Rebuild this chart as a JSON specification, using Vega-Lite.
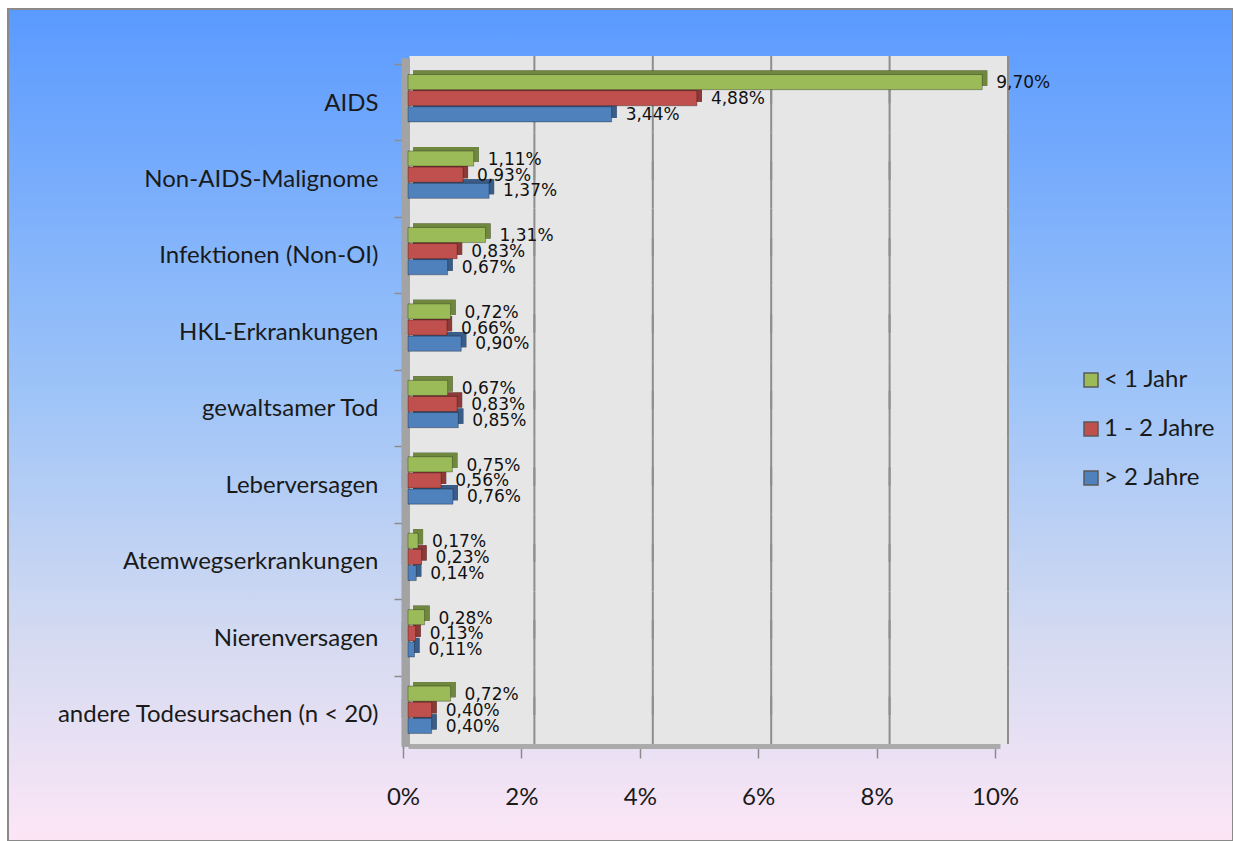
{
  "$schema": "https://vega.github.io/schema/vega-lite/v6.json",
  "width": 1225,
  "height": 832,
  "autosize": {"type": "none"},
  "padding": {"left": 8, "top": 9, "right": 0, "bottom": 0},
  "background": "#ffffff",
  "datasets": {
    "deaths": [
      {"cat": "AIDS", "series": "< 1 Jahr", "value": 0.0970},
      {"cat": "AIDS", "series": "1 - 2 Jahre", "value": 0.0488},
      {"cat": "AIDS", "series": "> 2 Jahre", "value": 0.0344},
      {"cat": "Non-AIDS-Malignome", "series": "< 1 Jahr", "value": 0.0111},
      {"cat": "Non-AIDS-Malignome", "series": "1 - 2 Jahre", "value": 0.0093},
      {"cat": "Non-AIDS-Malignome", "series": "> 2 Jahre", "value": 0.0137},
      {"cat": "Infektionen (Non-OI)", "series": "< 1 Jahr", "value": 0.0131},
      {"cat": "Infektionen (Non-OI)", "series": "1 - 2 Jahre", "value": 0.0083},
      {"cat": "Infektionen (Non-OI)", "series": "> 2 Jahre", "value": 0.0067},
      {"cat": "HKL-Erkrankungen", "series": "< 1 Jahr", "value": 0.0072},
      {"cat": "HKL-Erkrankungen", "series": "1 - 2 Jahre", "value": 0.0066},
      {"cat": "HKL-Erkrankungen", "series": "> 2 Jahre", "value": 0.0090},
      {"cat": "gewaltsamer Tod", "series": "< 1 Jahr", "value": 0.0067},
      {"cat": "gewaltsamer Tod", "series": "1 - 2 Jahre", "value": 0.0083},
      {"cat": "gewaltsamer Tod", "series": "> 2 Jahre", "value": 0.0085},
      {"cat": "Leberversagen", "series": "< 1 Jahr", "value": 0.0075},
      {"cat": "Leberversagen", "series": "1 - 2 Jahre", "value": 0.0056},
      {"cat": "Leberversagen", "series": "> 2 Jahre", "value": 0.0076},
      {"cat": "Atemwegserkrankungen", "series": "< 1 Jahr", "value": 0.0017},
      {"cat": "Atemwegserkrankungen", "series": "1 - 2 Jahre", "value": 0.0023},
      {"cat": "Atemwegserkrankungen", "series": "> 2 Jahre", "value": 0.0014},
      {"cat": "Nierenversagen", "series": "< 1 Jahr", "value": 0.0028},
      {"cat": "Nierenversagen", "series": "1 - 2 Jahre", "value": 0.0013},
      {"cat": "Nierenversagen", "series": "> 2 Jahre", "value": 0.0011},
      {"cat": "andere Todesursachen (n < 20)", "series": "< 1 Jahr", "value": 0.0072},
      {"cat": "andere Todesursachen (n < 20)", "series": "1 - 2 Jahre", "value": 0.0040},
      {"cat": "andere Todesursachen (n < 20)", "series": "> 2 Jahre", "value": 0.0040}
    ],
    "gridlines": [
      {
        "g": [0.02, 0.04, 0.06, 0.08, 0.1],
        "cat": ["AIDS", "Non-AIDS-Malignome", "Infektionen (Non-OI)", "HKL-Erkrankungen", "gewaltsamer Tod", "Leberversagen", "Atemwegserkrankungen", "Nierenversagen", "andere Todesursachen (n < 20)"]
      }
    ]
  },
  "resolve": {"scale": {"yOffset": "independent"}},
  "layer": [
    {
      "description": "back wall, upper half of each row",
      "data": {"name": "deaths"},
      "mark": {"type": "bar", "fill": "#e6e6e6", "yOffset": -18.5, "y2Offset": -18.5},
      "encoding": {
        "x": {"datum": 0.0003, "type": "quantitative", "title": null},
        "x2": {"datum": 0.1013},
        "y": {"field": "cat", "type": "nominal", "sort": null, "title": null}
      }
    },
    {
      "description": "back wall, lower half of each row",
      "data": {"name": "deaths"},
      "mark": {"type": "bar", "fill": "#e6e6e6", "yOffset": 10.5, "y2Offset": 10.5},
      "encoding": {
        "x": {"datum": 0.0003, "type": "quantitative", "title": null},
        "x2": {"datum": 0.1013},
        "y": {"field": "cat", "type": "nominal", "sort": null, "title": null}
      }
    },
    {
      "description": "left side wall, upper half",
      "data": {"name": "deaths"},
      "mark": {"type": "bar", "fill": "#a3a3a3", "yOffset": -16, "y2Offset": -16},
      "encoding": {
        "x": {"datum": -0.00105, "type": "quantitative", "title": null},
        "x2": {"datum": 0.0003},
        "y": {"field": "cat", "type": "nominal", "sort": null, "title": null}
      }
    },
    {
      "description": "left side wall, lower half",
      "data": {"name": "deaths"},
      "mark": {"type": "bar", "fill": "#a3a3a3", "yOffset": 13, "y2Offset": 13},
      "encoding": {
        "x": {"datum": -0.00105, "type": "quantitative", "title": null},
        "x2": {"datum": 0.0003},
        "y": {"field": "cat", "type": "nominal", "sort": null, "title": null}
      }
    },
    {
      "description": "gridlines on the back wall, upper half",
      "data": {"name": "gridlines"},
      "transform": [{"flatten": ["g"]}, {"flatten": ["cat"]}],
      "mark": {"type": "bar", "fill": "transparent", "stroke": "#8e8e8e", "strokeWidth": 2, "xOffset": 8, "x2Offset": 8, "yOffset": -18.5, "y2Offset": -18.5},
      "encoding": {
        "x": {"field": "g", "type": "quantitative", "title": null},
        "x2": {"field": "g"},
        "y": {"field": "cat", "type": "nominal", "sort": null, "title": null}
      }
    },
    {
      "description": "gridlines on the back wall, lower half",
      "data": {"name": "gridlines"},
      "transform": [{"flatten": ["g"]}, {"flatten": ["cat"]}],
      "mark": {"type": "bar", "fill": "transparent", "stroke": "#8e8e8e", "strokeWidth": 2, "xOffset": 8, "x2Offset": 8, "yOffset": 10.5, "y2Offset": 10.5},
      "encoding": {
        "x": {"field": "g", "type": "quantitative", "title": null},
        "x2": {"field": "g"},
        "y": {"field": "cat", "type": "nominal", "sort": null, "title": null}
      }
    },
    {
      "description": "bar depth, dark base",
      "data": {"name": "deaths"},
      "mark": {"type": "bar", "fill": "#000000", "xOffset": 5, "x2Offset": 5},
      "encoding": {
        "x": {"field": "value", "type": "quantitative", "title": null},
        "y": {"field": "cat", "type": "nominal", "sort": null, "title": null},
        "yOffset": {"field": "series", "type": "nominal", "sort": null, "scale": {"domain": ["< 1 Jahr", "1 - 2 Jahre", "> 2 Jahre"], "paddingInner": 0.06, "range": [-4, 43.39]}}
      }
    },
    {
      "description": "bar depth, tinted",
      "data": {"name": "deaths"},
      "mark": {"type": "bar", "fillOpacity": 0.72, "xOffset": 5, "x2Offset": 5},
      "encoding": {
        "x": {"field": "value", "type": "quantitative", "title": null},
        "y": {"field": "cat", "type": "nominal", "sort": null, "title": null},
        "yOffset": {"field": "series", "type": "nominal", "sort": null, "scale": {"domain": ["< 1 Jahr", "1 - 2 Jahre", "> 2 Jahre"], "paddingInner": 0.06, "range": [-4, 43.39]}},
        "fill": {"field": "series", "type": "nominal", "sort": null, "title": null}
      }
    },
    {
      "description": "bar fronts",
      "data": {"name": "deaths"},
      "mark": {"type": "bar", "stroke": "#000000", "strokeOpacity": 0.3, "strokeWidth": 1},
      "encoding": {
        "x": {
          "field": "value",
          "type": "quantitative",
          "title": null,
          "scale": {"domain": [0, 0.1], "range": [400, 992], "nice": false, "zero": true},
          "axis": {
            "orient": "bottom",
            "offset": -99,
            "values": [0, 0.02, 0.04, 0.06, 0.08, 0.1],
            "format": ".0%",
            "grid": false,
            "domainColor": "#ababab",
            "domainWidth": 13,
            "tickSize": 16,
            "tickWidth": 1.5,
            "tickColor": "#8c8c8c",
            "tickOffset": -5,
            "labelFlush": false,
            "labelOverlap": false,
            "labelPadding": 27,
            "labelFont": "Lato",
            "labelFontSize": 24,
            "labelColor": "#1a1a1a"
          }
        },
        "y": {
          "field": "cat",
          "type": "nominal",
          "sort": null,
          "title": null,
          "scale": {
            "domain": ["AIDS", "Non-AIDS-Malignome", "Infektionen (Non-OI)", "HKL-Erkrankungen", "gewaltsamer Tod", "Leberversagen", "Atemwegserkrankungen", "Nierenversagen", "andere Todesursachen (n < 20)"],
            "range": [51, 739],
            "paddingInner": 0.38,
            "paddingOuter": 0.19
          },
          "axis": {
            "orient": "left",
            "offset": -395,
            "tickOffset": -34.2,
            "labelOffset": 39,
            "tickSize": 9,
            "tickWidth": 1.5,
            "tickColor": "#8c8c8c",
            "domainColor": "#8c8c8c",
            "domainWidth": 1.5,
            "labelPadding": 16,
            "labelLimit": 500,
            "labelFont": "Lato",
            "labelFontSize": 24,
            "labelColor": "#1a1a1a",
            "grid": false
          }
        },
        "yOffset": {"field": "series", "type": "nominal", "sort": null, "scale": {"domain": ["< 1 Jahr", "1 - 2 Jahre", "> 2 Jahre"], "paddingInner": 0.06}},
        "fill": {
          "field": "series",
          "type": "nominal",
          "sort": null,
          "title": null,
          "scale": {"domain": ["< 1 Jahr", "1 - 2 Jahre", "> 2 Jahre"], "range": ["#9bbb59", "#c0504d", "#4f81bd"]},
          "legend": {
            "orient": "none",
            "legendX": 1071,
            "legendY": 359,
            "padding": 0,
            "symbolType": "square",
            "symbolSize": 196,
            "symbolOpacity": 1,
            "symbolStrokeColor": "#5a5a5a",
            "symbolStrokeWidth": 1.5,
            "labelFont": "Lato",
            "labelFontSize": 24,
            "labelColor": "#1a1a1a",
            "labelOffset": 1,
            "rowPadding": 25
          }
        }
      }
    },
    {
      "description": "value labels",
      "data": {"name": "deaths"},
      "mark": {"type": "text", "align": "left", "baseline": "middle", "dx": 14, "dy": 1, "font": "DejaVu Sans", "fontSize": 17, "color": "#111111"},
      "encoding": {
        "x": {"field": "value", "type": "quantitative", "title": null},
        "y": {"field": "cat", "type": "nominal", "sort": null, "title": null},
        "yOffset": {"field": "series", "type": "nominal", "sort": null, "scale": {"domain": ["< 1 Jahr", "1 - 2 Jahre", "> 2 Jahre"], "paddingInner": 0.06}},
        "text": {"field": "value", "type": "quantitative", "format": ".2%"}
      }
    }
  ],
  "config": {
    "locale": {"number": {"decimal": ",", "thousands": ".", "grouping": [3], "currency": ["", " €"]}},
    "view": {
      "fill": {
        "gradient": "linear",
        "x1": 0, "y1": 0, "x2": 0, "y2": 1,
        "stops": [
          {"offset": 0, "color": "#5a9aff"},
          {"offset": 0.45, "color": "#9cc3f8"},
          {"offset": 0.75, "color": "#d3daf1"},
          {"offset": 1, "color": "#fce6f6"}
        ]
      },
      "stroke": "#8a8a8a",
      "strokeWidth": 2
    }
  }
}
